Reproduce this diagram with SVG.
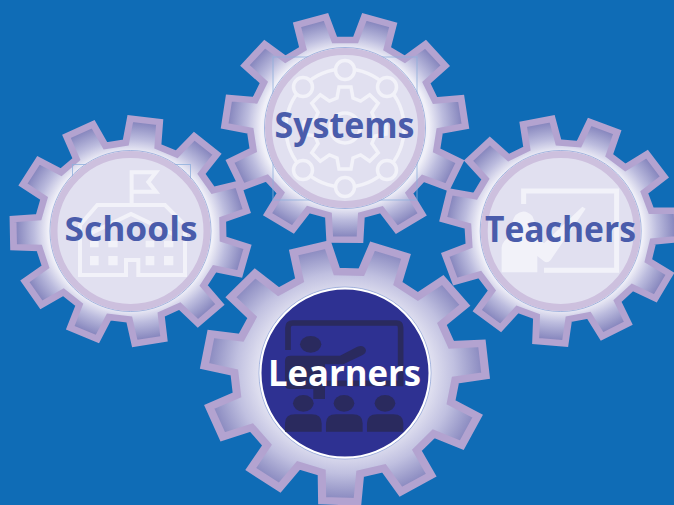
<svg xmlns="http://www.w3.org/2000/svg" width="674" height="505" viewBox="0 0 674 505">
<defs>
<radialGradient id="gr1" gradientUnits="userSpaceOnUse" cx="0" cy="0" r="112"><stop offset="0.7" stop-color="#f0f0f8"/><stop offset="0.82" stop-color="#bcbcde"/><stop offset="0.97" stop-color="#8787be"/></radialGradient>
<radialGradient id="gr2" gradientUnits="userSpaceOnUse" cx="0" cy="0" r="112"><stop offset="0.6" stop-color="#e4e4f2"/><stop offset="0.78" stop-color="#c0c0e0"/><stop offset="0.98" stop-color="#8a8ac0"/></radialGradient>
<polygon id="gear" points="-15.4,-87.2 -14.1,-111.6 14.1,-111.6 15.4,-87.2 34.2,-81.6 48.5,-101.5 72.2,-86.3 60,-65 72.9,-50.2 95.7,-59.2 107.4,-33.5 85.7,-22.2 88.5,-2.8 112.5,1.9 108.5,29.8 84.1,27.6 75.9,45.5 93.6,62.4 75.1,83.7 55.8,68.7 39.3,79.3 45,103.1 17.9,111.1 9.8,88 -9.8,88 -17.9,111.1 -45,103.1 -39.3,79.3 -55.8,68.7 -75.1,83.7 -93.6,62.4 -75.9,45.5 -84.1,27.6 -108.5,29.8 -112.5,1.9 -88.5,-2.8 -85.7,-22.2 -107.4,-33.5 -95.7,-59.2 -72.9,-50.2 -60,-65 -72.2,-86.3 -48.5,-101.5 -34.2,-81.6"/>
</defs>
<style>
.g{stroke:#b3a3d0;stroke-width:6.5;stroke-linejoin:miter;vector-effect:non-scaling-stroke}
.frame{fill:none;stroke:#8fb0dc;stroke-width:.8}
.edge{fill:none;stroke:#8fa6d8;stroke-width:.8}
.ring{fill:#e1e0f0;stroke:#cdc0de;stroke-width:7}
.ic{fill:none;stroke:#f2f2f9;stroke-width:4}
.ics{fill:#f2f2f9;stroke:none}
.dk{fill:#2a2a5e;stroke:none}
text{font-family:"Open Sans","Noto Sans","Liberation Sans",sans-serif;font-weight:700;text-anchor:middle}
.t{fill:#4a5cab}
</style>
<rect width="674" height="505" fill="#0f6cb6"/>
<g id="connectors"/>
<g id="node-systems" transform="translate(345 128)">
<use href="#gear" class="g" fill="url(#gr1)" transform="scale(1.07 1) rotate(-16.3)"/>
<rect class="frame" x="-72" y="-71" width="144" height="143"/>
<circle class="edge" r="80.500"/><circle class="ring" r="76.5"/>
<g fill="none" stroke="#f2f2f9" stroke-width="3.5">
<circle r="59"/>
<circle r="15"/>
<polygon points="-8,-30 -6,-41 6,-41 8,-30 15.6,-26.9 24.7,-33.2 33.2,-24.7 26.9,-15.6 30,-8 41,-6 41,6 30,8 26.9,15.6 33.2,24.7 24.7,33.2 15.6,26.9 8,30 6,41 -6,41 -8,30 -15.6,26.9 -24.7,33.2 -33.2,24.7 -26.9,15.6 -30,8 -41,6 -41,-6 -30,-8 -26.9,-15.6 -33.2,-24.7 -24.7,-33.2 -15.6,-26.9"/>
<g fill="#e1e0f0"><circle cx="0" cy="-58" r="9.5"/><circle cx="-42" cy="-41" r="9.5"/><circle cx="42" cy="-41" r="9.5"/><circle cx="-42" cy="42" r="9.5"/><circle cx="42" cy="42" r="9.5"/><circle cx="0" cy="59" r="9.5"/></g>
</g>
<text class="t" x="-.5" y="10" font-size="36" textLength="140" lengthAdjust="spacingAndGlyphs">Systems</text>
</g>
<g id="node-schools">
<g transform="translate(130.500 231)">
<use href="#gear" class="g" fill="url(#gr1)" transform="scale(1.05 1) rotate(7.1)"/>
<rect class="frame" x="-58" y="-66.5" width="118" height="118"/>
<circle class="edge" r="80.500"/><circle class="ring" r="76.5"/>
</g>
<g transform="translate(0 110) scale(.3333)">
<path class="ic" style="stroke-width:12" d="M395 280V187H468L445 216L468 245H395M240 345L292 285H495L555 345V495H415V450H378V495H240ZM262 375L393 312L525 375"/>
<path class="ics" d="M270 438h26v28h-26zM325 438h28v28h-28zM437 438h26v28h-26zM492 438h28v28h-28zM270 392h26v20h-26zM325 392h28v20h-28zM437 392h26v20h-26zM492 392h28v20h-28z"/>
</g>
<text class="t" x="131" y="241" font-size="34.5" textLength="133" lengthAdjust="spacingAndGlyphs">Schools</text>
</g>
<g id="node-teachers">
<g transform="translate(560.7 231)">
<use href="#gear" class="g" fill="url(#gr1)" transform="scale(1.05 1) rotate(21.4)"/>
<circle class="edge" r="80.500"/><circle class="ring" r="76.5"/>
</g>
<g transform="translate(434 110) scale(.3333)">
<path class="ic" style="stroke-width:15" d="M269 282V243H548V481H330"/>
<path class="ics" d="M203 487V412Q205 388 240 375Q226 340 245 315Q270 292 295 318Q310 345 300 372L330 400L445 290L455 296L350 450Q340 462 328 452L310 438V487Z"/>
</g>
<text class="t" x="560.5" y="242" font-size="35" textLength="151" lengthAdjust="spacingAndGlyphs">Teachers</text>
</g>
<g id="node-learners">
<g transform="translate(345 373)">
<use href="#gear" class="g" fill="url(#gr2)" transform="scale(1.25 1.15) rotate(18.5)"/>
<circle r="86" fill="none" stroke="#8fa6d8" stroke-width=".8"/>
<circle r="84.5" fill="#2e3192" stroke="#fff" stroke-width="2"/>
</g>
<g transform="translate(200 235) scale(.3333)">
<path d="M264 345V278Q264 264 278 264H590Q602 264 602 278V445H370" fill="none" stroke="#2a2a5e" stroke-width="17"/>
<ellipse class="dk" cx="332" cy="328" rx="32" ry="25"/>
<path class="dk" d="M255 378Q255 362 272 362H420L472 335Q492 328 498 345Q498 355 488 360L430 388H375V492H340V462H270Q255 462 255 450Z"/>
<ellipse class="dk" cx="310" cy="505" rx="31" ry="25"/>
<ellipse class="dk" cx="432" cy="505" rx="31" ry="25"/>
<ellipse class="dk" cx="555" cy="505" rx="31" ry="25"/>
<path class="dk" d="M255 590V565Q255 538 285 538H335Q365 538 365 565V590ZM378 590V565Q378 538 408 538H458Q488 538 488 565V590ZM501 590V565Q501 538 531 538H580Q610 538 610 565V590Z"/>
</g>
<text fill="#fff" x="344.500" y="386" font-size="36" textLength="153" lengthAdjust="spacingAndGlyphs">Learners</text>
</g>
</svg>
